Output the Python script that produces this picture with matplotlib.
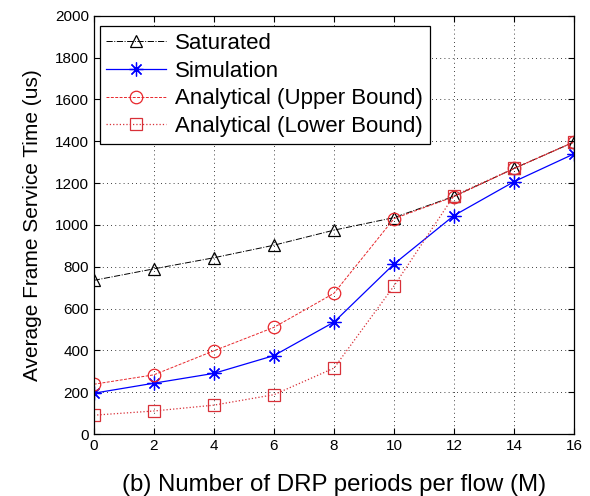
import matplotlib.pyplot as plt

plt.rcParams['font.family'] = ['Liberation Sans', 'DejaVu Sans']

# data
M = [0, 2, 4, 6, 8, 10, 12, 14, 16]
saturated = [735, 790, 843, 903, 975, 1035, 1137, 1270, 1397]
simulation = [195, 243, 290, 375, 535, 813, 1045, 1207, 1340]
upper = [238, 283, 398, 510, 673, 1030, 1135, 1270, 1397]
lower = [90, 110, 138, 188, 315, 708, 1140, 1270, 1397]

fig = plt.figure(figsize=(5.9, 4.96), dpi=100)
ax = fig.add_axes([0.159, 0.125, 0.814, 0.843])

ax.plot(M, saturated, color='black', linestyle='-.', linewidth=0.7,
        marker='^', markersize=9, markerfacecolor='none', markeredgewidth=0.9,
        label='Saturated')
ax.plot(M, simulation, color='blue', linestyle='-', linewidth=0.9,
        marker=(8, 2, 0), markersize=10, markeredgewidth=0.9,
        label='Simulation')
ax.plot(M, upper, color='#e8262b', linestyle='--', linewidth=0.7,
        marker='o', markersize=9, markerfacecolor='none', markeredgewidth=0.9,
        dashes=(3, 1.5), label='Analytical (Upper Bound)')
ax.plot(M, lower, color='#d83038', linestyle=':', linewidth=0.9,
        marker='s', markersize=8, markerfacecolor='none', markeredgewidth=0.9,
        label='Analytical (Lower Bound)')

ax.set_xlim(0, 16)
ax.set_ylim(0, 2000)
ax.set_xticks(range(0, 17, 2))
ax.set_yticks(range(0, 2001, 200))
ax.tick_params(direction='in', labelsize=11, length=4, top=True, right=True)
ax.grid(True, color='black', linestyle=(0, (1, 4)), linewidth=0.6)
for s in ax.spines.values():
    s.set_linewidth(0.9)

ax.set_xlabel('(b) Number of DRP periods per flow (M)', fontsize=17.3, labelpad=15)
ax.set_ylabel('Average Frame Service Time (us)', fontsize=15, labelpad=9)

leg = ax.legend(loc='upper left', bbox_to_anchor=(0.012, 0.975), borderaxespad=0,
                fontsize=16, fancybox=False, framealpha=1,
                edgecolor='black', handlelength=2.7, handletextpad=0.4,
                labelspacing=0.3, borderpad=0.3)
leg.get_frame().set_linewidth(0.9)

fig.savefig('out.png', dpi=100)
